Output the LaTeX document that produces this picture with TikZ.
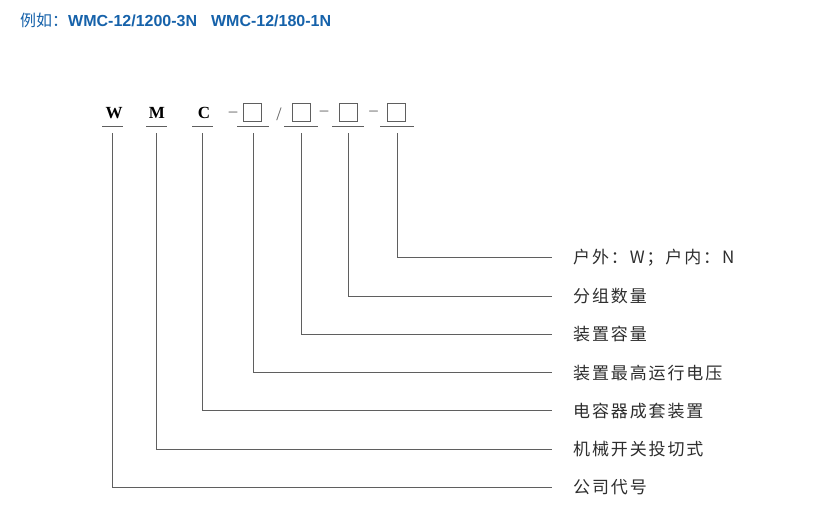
\documentclass[tikz,border=0pt]{standalone}
\usepackage{fontspec}
\setmainfont{Liberation Serif}
\newfontfamily\cjk[LetterSpace=11]{Noto Sans CJK SC}
\newfontfamily\cjktitle{Noto Sans CJK SC}
\newfontfamily\titlefont{Liberation Sans}
\usepackage{tikz}

\definecolor{titleblue}{RGB}{22,98,170}
\definecolor{txt}{RGB}{45,45,45}
\definecolor{ln}{RGB}{95,95,95}

\tikzset{
	code/.style={font=\fontsize{17}{17}\selectfont\bfseries, text=black, inner sep=0pt, anchor=base},
	sym/.style={font=\fontsize{17}{17}\selectfont, text=ln, inner sep=0pt},
	slot/.style={draw=ln, line width=.8pt, minimum size=18pt, inner sep=0pt},
	uline/.style={draw=ln, line width=.8pt},
	conn/.style={draw=ln, line width=.9pt},
	lbl/.style={font=\cjk\fontsize{17}{17}\selectfont, text=txt, anchor=west, inner sep=0pt}
}

\begin{document}
\begin{tikzpicture}[x=1pt,y=-1pt]
\useasboundingbox (0,0) rectangle (819,516);

% title line
\node[anchor=base west, inner sep=0pt, text=titleblue, font=\fontsize{16}{16}\selectfont] (title) at (20,26.5)
	{{\cjktitle 例如：}{\titlefont\bfseries WMC-12/1200-3N\hspace{14pt}WMC-12/180-1N}};

% model code
\node[code] (cW) at (114,118.7) {W};
\node[code] (cM) at (157,118.7) {M};
\node[code] (cC) at (204,118.7) {C};
\node[sym] (d1) at (233,114) {–};
\node[slot] (bA) at (252.5,112) {};
\node[sym, font=\fontsize{19}{19}\selectfont] (sl) at (279,114) {/};
\node[slot] (bB) at (301,112) {};
\node[sym] (d2) at (324,113.5) {–};
\node[slot] (bD) at (348,112.5) {};
\node[sym] (d3) at (373.5,113.5) {–};
\node[slot] (bE) at (396.5,112.5) {};

% underlines
\foreach \s/\x/\w in {W/112.5/21, M/156.5/21, C/202.8/21, A/253/32, B/301/34, D/348/32, E/397/34}
	\draw[uline] (\x-\w/2,126.5) -- (\x+\w/2,126.5) coordinate[pos=.5] (u\s);

% meanings
\node[lbl] (lE) at (573,257.7) {户外：W；户内：N};
\node[lbl] (lD) at (573,296) {分组数量};
\node[lbl] (lB) at (573,334.3) {装置容量};
\node[lbl] (lA) at (573,372.6) {装置最高运行电压};
\node[lbl] (lC) at (573,410.9) {电容器成套装置};
\node[lbl] (lM) at (573,449.2) {机械开关投切式};
\node[lbl] (lW) at (573,487.5) {公司代号};

% leaders
\foreach \s in {W,M,C,A,B,D,E}
	\draw[conn] ([yshift=-7pt]u\s) |- ([xshift=-21pt]l\s.west);
\end{tikzpicture}
\end{document}
